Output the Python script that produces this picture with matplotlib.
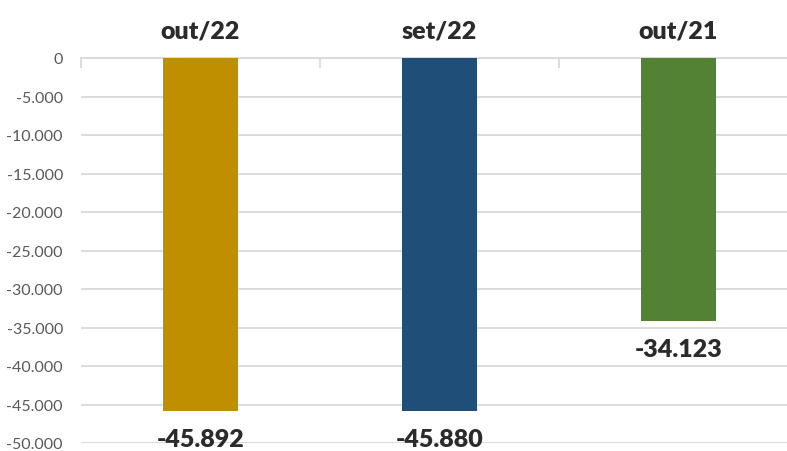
import numpy as np
import matplotlib.pyplot as plt
from matplotlib.ticker import FixedLocator, FuncFormatter

# dados do gráfico
categorias = ['out/22', 'set/22', 'out/21']
valores = [-45892, -45880, -34123]
cores = ['#BF8F00', '#1F4E79', '#548235']

plt.rcParams['font.family'] = ['Lato', 'DejaVu Sans']

fig = plt.figure(figsize=(7.87, 4.52), dpi=100)
ax = fig.add_axes([81/787, 1 - 444/452, (798 - 81)/787, (444 - 59)/452])

x = np.arange(len(categorias))
ax.bar(x, valores, width=0.314, color=cores, zorder=3)

ax.set_xlim(-0.5, len(categorias) - 0.5)
ax.set_ylim(-50000, 0)

# grade horizontal
ax.yaxis.set_major_locator(FixedLocator(np.arange(-50000, 1, 5000)))
ax.yaxis.set_major_formatter(FuncFormatter(lambda v, p: f"{int(v):,}".replace(",", ".")))
ax.grid(axis='y', color='#D9D9D9', lw=1.3, zorder=0)
ax.tick_params(axis='y', length=0, pad=13, labelsize=11.5, labelcolor='#595959')

# eixo das categorias no topo
ax.xaxis.tick_top()
ax.xaxis.set_major_locator(FixedLocator(np.arange(-0.5, len(categorias), 1)))
ax.xaxis.set_major_formatter(FuncFormatter(lambda v, p: ''))
ax.xaxis.set_minor_locator(FixedLocator(x))
ax.xaxis.set_minor_formatter(FuncFormatter(lambda v, p: categorias[int(round(v))]))
ax.tick_params(axis='x', which='major', direction='in', length=7, color='#D9D9D9', width=1.3)
ax.tick_params(axis='x', which='minor', length=0, pad=12, labelsize=18, labelcolor='#2B2B2B')
for lab in ax.get_xticklabels(minor=True):
    lab.set_fontweight('heavy')

for s in ['left', 'right', 'bottom']:
    ax.spines[s].set_visible(False)
ax.spines['top'].set_color('#D9D9D9')
ax.spines['top'].set_linewidth(1.3)

# rótulos de valor
for xi, v in zip(x, valores):
    ax.annotate(f"{v:,}".replace(",", "."), (xi, v), xytext=(0, -20),
                textcoords='offset points', ha='center', va='center',
                fontsize=18, fontweight='heavy', color='#2B2B2B', zorder=4,
                annotation_clip=False)

fig.savefig('out.png', dpi=100)
